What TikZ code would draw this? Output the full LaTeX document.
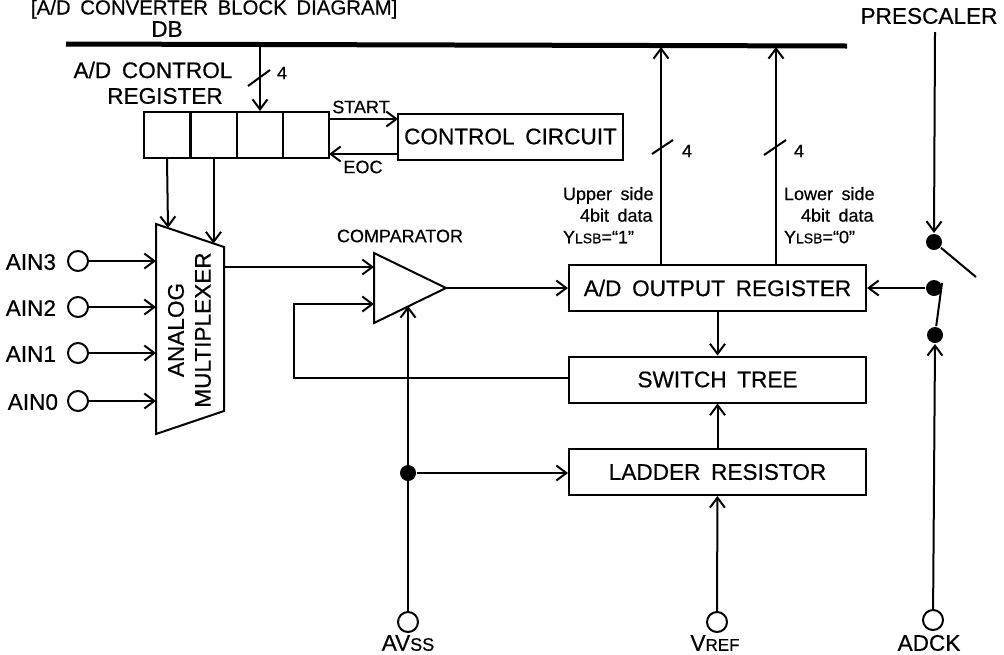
\documentclass[tikz,border=0pt]{standalone}
\usepackage{fontspec}
\setmainfont[WordSpace=1.7, FakeBold=0.5]{Liberation Sans}
\usetikzlibrary{arrows.meta}

\begin{document}
\begin{tikzpicture}[x=0.5pt, y=-0.5pt, line width=1pt, >={Straight Barb[length=5pt, width=7.5pt, line width=1pt]},
    biglabel/.style={font=\fontsize{11.3}{13.5}\selectfont, inner sep=0pt},
    smalllabel/.style={font=\fontsize{9}{10.5}\selectfont, inner sep=0pt},
    blockbox/.style={draw, biglabel, minimum width=148.5pt, minimum height=23pt},
    regcell/.style={draw, minimum width=23pt, minimum height=23pt, inner sep=0pt},
    pad/.style={draw, circle, minimum size=10pt, inner sep=0pt},
    joint/.style={fill, circle, minimum size=8pt, inner sep=0pt}]

\useasboundingbox (0,0) rectangle (1004,654);

% titolo e bus
\node[font=\fontsize{10.2}{12}\selectfont, inner sep=0pt, anchor=base west] (title) at (30,14.5) {[A/D CONVERTER BLOCK DIAGRAM]};
\node[biglabel] (dblabel) at (167,29) {DB};
\coordinate (busL) at (66,44);
\coordinate (busR) at (847,46);
\draw[line width=2.5pt] (busL) -- (busR);

% registro di controllo
\node[biglabel] (ctrllabelA) at (153,70) {A/D CONTROL};
\node[biglabel] (ctrllabelB) at (165,96) {REGISTER};
\node[regcell] (reg0) at (167,135) {};
\node[regcell] (reg1) at (213.5,135) {};
\node[regcell] (reg2) at (260,135) {};
\node[regcell] (reg3) at (306,135) {};
\node[blockbox, minimum width=112.5pt] (ctrl) at (510.5,136.5) {CONTROL CIRCUIT};

\coordinate (busA) at (260,45);
\draw[->] (busA) -- (reg2.north);
\coordinate (slashA1) at (248,86);
\coordinate (slashA2) at (270,70);
\draw (slashA1) -- (slashA2);
\node[smalllabel] (bitsA) at (282,73) {4};

\coordinate (startL) at (329,119);
\coordinate (startR) at (398,119);
\coordinate (eocL) at (329,154);
\coordinate (eocR) at (398,154);
\draw[->] (startL) -- (startR);
\draw[->] (eocR) -- (eocL);
\node[smalllabel] (startlabel) at (361,107) {START};
\node[smalllabel] (eoclabel) at (363,167) {EOC};

% multiplexer
\coordinate (muxNW) at (156,224);
\coordinate (muxNE) at (224,247);
\coordinate (muxSE) at (224,411);
\coordinate (muxSW) at (156,434);
\draw (muxNW) -- (muxNE) -- (muxSE) -- (muxSW) -- cycle;
\node[biglabel, rotate=90] (analog) at (176,330) {ANALOG};
\node[biglabel, rotate=90] (multi) at (203,330) {MULTIPLEXER};
\coordinate (muxA) at (168,228);
\coordinate (muxB) at (213.5,243.5);
\draw[->] (reg0.south) -- (muxA);
\draw[->] (reg1.south) -- (muxB);

% ingressi analogici
\node[pad] (ain3) at (78,261) {};
\node[pad] (ain2) at (78,307) {};
\node[pad] (ain1) at (78,353) {};
\node[pad] (ain0) at (78,401) {};
\node[biglabel, anchor=east] (ain3label) at (57,262) {AIN3};
\node[biglabel, anchor=east] (ain2label) at (57,308) {AIN2};
\node[biglabel, anchor=east] (ain1label) at (57,354) {AIN1};
\node[biglabel, anchor=east] (ain0label) at (59,402) {AIN0};
\draw[->] (ain3) -- (ain3 -| muxNW);
\draw[->] (ain2) -- (ain2 -| muxNW);
\draw[->] (ain1) -- (ain1 -| muxNW);
\draw[->] (ain0) -- (ain0 -| muxNW);

% comparatore
\coordinate (cmpA) at (374,253);
\coordinate (cmpB) at (446,288);
\coordinate (cmpC) at (374,323);
\draw (cmpA) -- (cmpB) -- (cmpC) -- cycle;
\node[smalllabel] (cmplabel) at (400,236) {COMPARATOR};
\coordinate (cmpIn) at (374,267);
\coordinate (cmpFb) at (374,304);
\coordinate (cmpLow) at (408,306);
\draw[->] (muxNE |- cmpIn) -- (cmpIn);

% blocchi a destra
\node[blockbox] (outreg) at (717.5,288) {A/D OUTPUT REGISTER};
\node[blockbox] (tree) at (717.5,379.5) {SWITCH TREE};
\node[blockbox] (ladder) at (717.5,472) {LADDER RESISTOR};
\draw[->] (cmpB) -- (cmpB -| outreg.west);
\draw[->] (outreg) -- (tree);
\draw[->] (ladder) -- (tree);

% retroazione
\coordinate (fbA) at (294,378);
\coordinate (fbB) at (294,304);
\draw[->] (fbA -| tree.west) -- (fbA) -- (fbB) -- (cmpFb);

% uscite verso il bus
\coordinate (upA) at (661,265);
\coordinate (upB) at (661,47);
\coordinate (lowA) at (776,265);
\coordinate (lowB) at (776,47);
\draw[->] (upA) -- (upB);
\draw[->] (lowA) -- (lowB);
\coordinate (slashB1) at (652,154);
\coordinate (slashB2) at (673,140);
\coordinate (slashC1) at (764,155);
\coordinate (slashC2) at (786,140);
\draw (slashB1) -- (slashB2);
\draw (slashC1) -- (slashC2);
\node[smalllabel] (bitsB) at (687,151) {4};
\node[smalllabel] (bitsC) at (799,151) {4};
\node[smalllabel, anchor=north west, align=left] (upperlabel) at (562,186) {Upper side\\[0.3pt]\hspace*{8.5pt}4bit data\\[0.3pt]Y{\fontsize{7}{8}\selectfont LSB}=“1”};
\node[smalllabel, anchor=north west, align=left] (lowerlabel) at (783,186) {Lower side\\[0.3pt]\hspace*{8.5pt}4bit data\\[0.3pt]Y{\fontsize{7}{8}\selectfont LSB}=“0”};

% interruttore
\node[biglabel] (prelabel) at (929,16) {PRESCALER};
\node[joint] (swA) at (934,242) {};
\node[joint] (swB) at (934,288) {};
\node[joint] (swC) at (935,335) {};
\coordinate (preTop) at (935,32);
\coordinate (swEnd) at (976,277);
\coordinate (swTip) at (942,283);
\draw[->] (preTop) -- (swA.north);
\draw (swA) -- (swEnd);
\draw (swC) -- (swTip);
\draw[->] (swB) -- (swB -| outreg.east);

% piedini in basso
\node[pad] (avss) at (408,622) {};
\node[pad] (vref) at (717,622) {};
\node[pad] (adck) at (933,620) {};
\node[biglabel] (avsslabel) at (408,643) {AV{\fontsize{9}{10}\selectfont SS}};
\node[biglabel] (vreflabel) at (715,643) {V{\fontsize{8.5}{10}\selectfont REF}};
\node[biglabel] (adcklabel) at (929,643) {ADCK};
\node[joint] (tap) at (408,473) {};
\draw[->] (avss) -- (cmpLow);
\draw[->] (tap) -- (tap -| ladder.west);
\draw[->] (vref) -- (ladder);
\draw[->] (adck) -- (swC.south);

\end{tikzpicture}
\end{document}
